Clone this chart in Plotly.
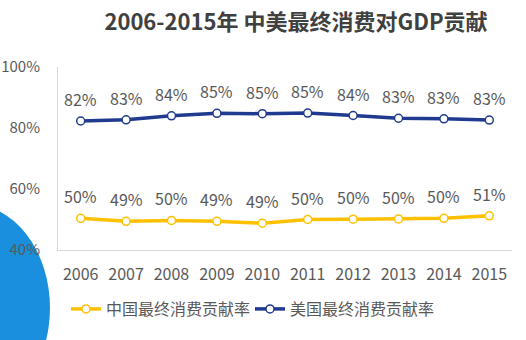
import plotly.graph_objects as go

years = ["2006", "2007", "2008", "2009", "2010", "2011", "2012", "2013", "2014", "2015"]
china = [50.4, 49.4, 49.7, 49.4, 48.8, 50.0, 50.1, 50.2, 50.4, 51.2]
usa = [82.3, 82.7, 84.0, 84.8, 84.7, 84.9, 84.1, 83.2, 83.0, 82.6]
china_name = "中国最终消费贡献率"
usa_name = "美国最终消费贡献率"
title_text = "2006-2015年 中美最终消费对GDP贡献"
y_ticks = [40, 60, 80, 100]

W, H = 526, 340
ML, MR, MT, MB = 58, 14, 67, 90
PW, PH = W - ML - MR, H - MT - MB

FONT = "Noto Sans CJK SC"
TXT = "#595959"
GOLD = "#FFC000"
NAVY = "#203A8F"


def px_x(p):
    return (p - ML) / PW


def px_y(p):
    return (H - MB - p) / PH


fig = go.Figure()
for name, vals, col in [(china_name, china, GOLD), (usa_name, usa, NAVY)]:
    fig.add_trace(go.Scatter(
        x=years, y=vals, name=name, mode="lines+markers",
        line=dict(color=col, width=3.5),
        marker=dict(size=8, color="white", line=dict(color=col, width=1.5)),
        hoverinfo="skip",
    ))
    for i, yv in enumerate(vals):
        fig.add_annotation(x=i, y=yv, xref="x", yref="y", text=f"{yv:.0f}%",
                           showarrow=False, yshift=22,
                           font=dict(family=FONT, size=16, color=TXT))

# decorative blue circle at lower left
fig.add_shape(type="circle", xref="paper", yref="paper", layer="below",
              x0=px_x(-110), x1=px_x(50), y0=px_y(204), y1=px_y(412),
              fillcolor="#1A8FDD", line=dict(width=0))

fig.update_layout(
    width=W, height=H,
    margin=dict(l=ML, r=MR, t=MT, b=MB, autoexpand=False),
    paper_bgcolor="white", plot_bgcolor="white",
    font=dict(family=FONT, color=TXT, size=15),
    title=dict(text=f"<b>{title_text}</b>", x=296 / W,
               xanchor="center", y=1 - 22 / H, yanchor="middle",
               font=dict(family=FONT, size=22, color="#404040")),
    showlegend=True,
    legend=dict(orientation="h", x=px_x(66), xanchor="left",
                y=px_y(309), yanchor="middle",
                font=dict(family=FONT, size=16, color=TXT), bgcolor="rgba(0,0,0,0)",
                entrywidth=139, itemclick=False),
    xaxis=dict(type="category", range=[-0.5, 9.5], showgrid=False, zeroline=False,
               showline=True, linecolor="#D9D9D9", linewidth=1, ticks="",
               tickfont=dict(family=FONT, size=16, color=TXT), ticklabelstandoff=10),
    yaxis=dict(range=[40, 100], tickvals=y_ticks, ticktext=[f"{v}%" for v in y_ticks],
               showgrid=False, zeroline=False, showline=True, linecolor="#D9D9D9",
               linewidth=1, ticks="outside", ticklen=14, tickcolor="rgba(0,0,0,0)",
               tickfont=dict(family=FONT, size=15, color=TXT)),
)

fig.write_html("out.html")
